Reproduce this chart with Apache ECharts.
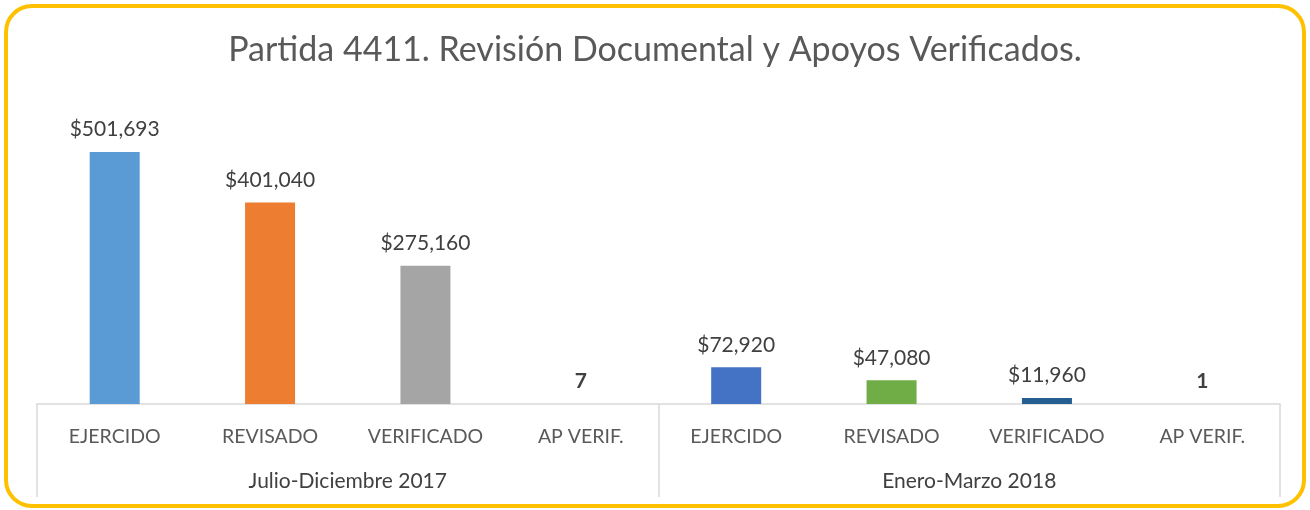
<!DOCTYPE html>
<html><head><meta charset="utf-8">
<script src="https://cdn.jsdelivr.net/npm/echarts@6/dist/echarts.min.js"></script>
<style>html,body{margin:0;padding:0;background:#fff}#c{width:1310px;height:510px}</style>
</head><body><div id="c"></div>
<script>
const titleText = 'Partida 4411. Revisión Documental y Apoyos Verificados.';
const categories = ['EJERCIDO','REVISADO','VERIFICADO','AP VERIF.','EJERCIDO','REVISADO','VERIFICADO','AP VERIF.'];
const groups = ['Julio-Diciembre 2017','Enero-Marzo 2018'];
const values = [501693, 401040, 275160, 7, 72920, 47080, 11960, 1];
const isMoney = [true, true, true, false, true, true, true, false];
const colors = ['#5B9BD5','#ED7D31','#A5A5A5','#FFC000','#4472C4','#70AD47','#255E91','#9E480E'];

const FONT = 'Lato';
const chart = echarts.init(document.getElementById('c'));
function fmt(v, money){ return money ? '$' + v.toLocaleString('en-US') : String(v); }
chart.setOption({
  animation: false,
  textStyle: {fontFamily: FONT},
  title: {text: titleText, left: 'center', top: 28,
    textStyle: {fontFamily: FONT, fontSize: 34, fontWeight: 'normal', color: '#595959'}},
  graphic: [{type:'rect', shape:{x:6,y:6,width:1298,height:500,r:26},
    style:{fill:'none', stroke:'#FFC000', lineWidth:4}, z:100}],
  grid: {left: 37, right: 30, top: 102.6, bottom: 106, containLabel: false},
  xAxis: [
    {type:'category', data: categories, position:'bottom',
     axisLine:{show:true, lineStyle:{color:'#D9D9D9', width:1.5}},
     axisTick:{show:false},
     axisLabel:{fontFamily: FONT, fontSize:19.5, color:'#595959', margin:23, interval:0}},
    {type:'category', data: groups, position:'bottom',
     axisLine:{show:false},
     axisTick:{show:true, length:93, lineStyle:{color:'#D9D9D9', width:1.5}},
     axisLabel:{fontFamily: FONT, fontSize:21, color:'#404040', margin:67, interval:0}}
  ],
  yAxis: {type:'value', min:0, max:600000, show:false, splitLine:{show:false}},
  series: [{
    type:'bar', xAxisIndex:0, barWidth:50,
    data: values.map((v,i)=>({value:v, itemStyle:{color:colors[i]},
      label:{fontWeight: isMoney[i] ? 'normal' : 'bold'}})),
    label:{show:true, position:'top', distance:12, fontFamily: FONT, fontSize:21, color:'#404040',
      formatter: p => fmt(p.value, isMoney[p.dataIndex])}
  }]
});
</script></body></html>
